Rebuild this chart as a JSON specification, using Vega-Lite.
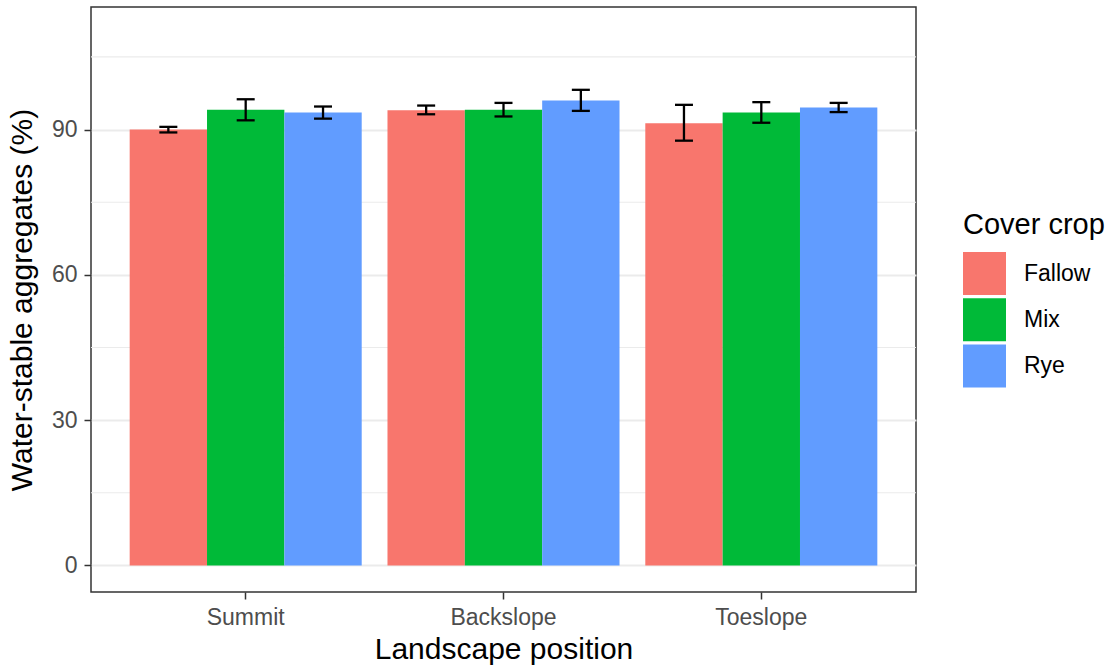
{
  "$schema": "https://vega.github.io/schema/vega-lite/v6.json",
  "width": 825,
  "height": 585,
  "autosize": "none",
  "padding": {"left": 91, "top": 7, "right": 195, "bottom": 73},
  "background": "white",
  "config": {
    "font": "Liberation Sans",
    "view": {"stroke": "#333333", "strokeWidth": 1.5},
    "axis": {
      "domain": false,
      "gridColor": "#EBEBEB",
      "gridWidth": 2.2,
      "tickColor": "#333333",
      "tickWidth": 1.5,
      "tickSize": 7,
      "labelColor": "#4D4D4D",
      "labelFontSize": 23,
      "labelPadding": 7,
      "titleFontSize": 30,
      "titleFontWeight": "normal",
      "titleColor": "black"
    }
  },
  "data": {
    "values": [
      {"position": "Summit", "crop": "Fallow", "mean": 90.0, "lo": 89.4, "hi": 90.55},
      {"position": "Summit", "crop": "Mix", "mean": 94.1, "lo": 91.9, "hi": 96.25},
      {"position": "Summit", "crop": "Rye", "mean": 93.5, "lo": 92.25, "hi": 94.75},
      {"position": "Backslope", "crop": "Fallow", "mean": 94.0, "lo": 93.15, "hi": 94.95},
      {"position": "Backslope", "crop": "Mix", "mean": 94.1, "lo": 92.7, "hi": 95.5},
      {"position": "Backslope", "crop": "Rye", "mean": 96.0, "lo": 93.85, "hi": 98.2},
      {"position": "Toeslope", "crop": "Fallow", "mean": 91.3, "lo": 87.7, "hi": 95.1},
      {"position": "Toeslope", "crop": "Mix", "mean": 93.5, "lo": 91.4, "hi": 95.65},
      {"position": "Toeslope", "crop": "Rye", "mean": 94.55, "lo": 93.6, "hi": 95.5}
    ]
  },
  "layer": [
    {
      "data": {"values": [{"g": 15}, {"g": 45}, {"g": 75}, {"g": 105}]},
      "mark": {"type": "rule", "color": "#EBEBEB", "strokeWidth": 1.1},
      "encoding": {
        "y": {"field": "g", "type": "quantitative", "scale": {"domain": [-5.49, 115.3], "nice": false, "zero": false}}
      }
    },
    {
      "mark": {"type": "bar"},
      "encoding": {
        "x": {
          "field": "position", "type": "nominal",
          "sort": ["Summit", "Backslope", "Toeslope"],
          "scale": {"paddingInner": 0.1, "paddingOuter": 0.15},
          "axis": {"title": "Landscape position", "labelAngle": 0, "bandPosition": 0.5, "titlePadding": 5}
        },
        "xOffset": {"field": "crop", "type": "nominal", "scale": {"paddingInner": 0, "paddingOuter": 0}},
        "y": {
          "field": "mean", "type": "quantitative",
          "scale": {"domain": [-5.49, 115.3], "nice": false, "zero": false},
          "axis": {"title": "Water-stable aggregates (%)", "values": [0, 30, 60, 90], "titlePadding": 14}
        },
        "color": {
          "field": "crop", "type": "nominal",
          "scale": {"domain": ["Fallow", "Mix", "Rye"], "range": ["#F8766D", "#00BA38", "#619CFF"]},
          "legend": {
            "title": "Cover crop",
            "orient": "none",
            "legendX": 872,
            "legendY": 204,
            "padding": 0,
            "titleFontSize": 29,
            "titleFontWeight": "normal",
            "titleColor": "black",
            "titlePadding": 12,
            "labelFontSize": 23,
            "labelColor": "black",
            "labelOffset": 18,
            "symbolType": "square",
            "symbolSize": 1849,
            "symbolStrokeWidth": 0,
            "symbolOpacity": 1,
            "rowPadding": 3.3
          }
        }
      }
    },
    {
      "mark": {"type": "rule", "color": "black", "strokeWidth": 2.3},
      "encoding": {
        "x": {"field": "position", "type": "nominal", "sort": ["Summit", "Backslope", "Toeslope"]},
        "xOffset": {"field": "crop", "type": "nominal"},
        "y": {"field": "lo", "type": "quantitative"},
        "y2": {"field": "hi"}
      }
    },
    {
      "mark": {"type": "tick", "color": "black", "thickness": 2.3, "size": 18, "orient": "horizontal", "opacity": 1},
      "encoding": {
        "x": {"field": "position", "type": "nominal", "sort": ["Summit", "Backslope", "Toeslope"]},
        "xOffset": {"field": "crop", "type": "nominal"},
        "y": {"field": "lo", "type": "quantitative"}
      }
    },
    {
      "mark": {"type": "tick", "color": "black", "thickness": 2.3, "size": 18, "orient": "horizontal", "opacity": 1},
      "encoding": {
        "x": {"field": "position", "type": "nominal", "sort": ["Summit", "Backslope", "Toeslope"]},
        "xOffset": {"field": "crop", "type": "nominal"},
        "y": {"field": "hi", "type": "quantitative"}
      }
    }
  ]
}
